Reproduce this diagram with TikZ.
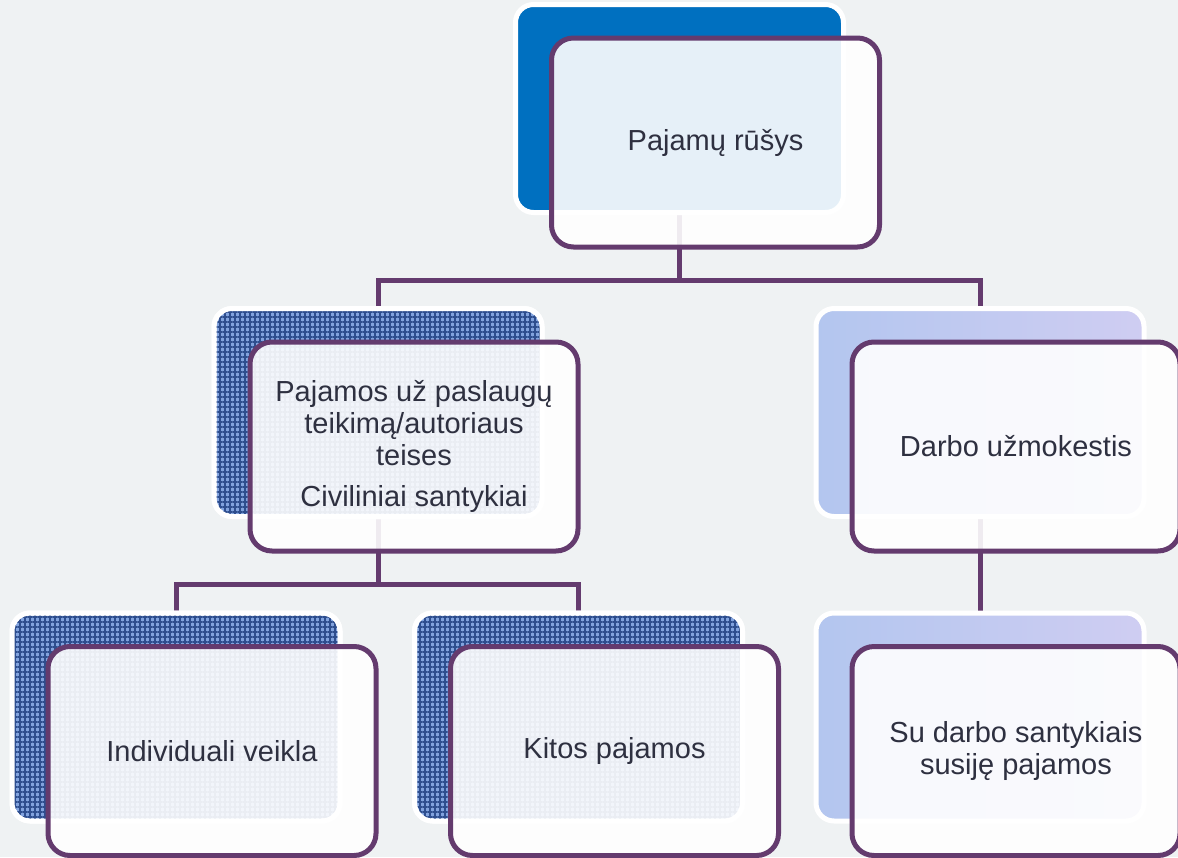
\documentclass[tikz,border=0pt]{standalone}
\usepackage{fontspec}
\setmainfont{Liberation Sans}
\usetikzlibrary{patterns.meta,backgrounds}

\definecolor{bgcol}{HTML}{EFF2F3}
\definecolor{rimcol}{HTML}{643B6E}
\definecolor{headblue}{HTML}{0070C0}
\definecolor{clothbase}{HTML}{82A3DE}
\definecolor{clothweave}{HTML}{2E4E8E}
\definecolor{mistA}{HTML}{B3C6EF}
\definecolor{mistB}{HTML}{C6D6F6}
\definecolor{mistC}{HTML}{CFCDF2}
\definecolor{txtcol}{HTML}{2E3040}

\begin{document}
\begin{tikzpicture}[x=1pt,y=-1pt,
    backbox/.style={rectangle,
          rounded corners=18pt,
          draw=white,
          line width=5pt,
          minimum width=328pt,
          minimum height=208pt},
    cloth/.style={backbox,
          fill=clothbase,
          postaction={pattern={Hatch[distance=5pt,line width=1.6pt]},
                      pattern color=clothweave, draw=white}},
    mist/.style={backbox,
          left color=mistA, middle color=mistB, right color=mistC},
    frontbox/.style={rectangle,
          rounded corners=22pt,
          draw=rimcol,
          line width=5pt,
          fill=white,
          fill opacity=0.9,
          minimum width=328pt,
          minimum height=209pt},
    caption/.style={align=center,
          text=txtcol,
          font=\fontsize{29pt}{32pt}\selectfont},
    link/.style={draw=rimcol, line width=5pt}]

    \path[use as bounding box] (0,0) rectangle (1178,857);

    % back boxes
    \node[backbox, fill=headblue] (topb) at (679.5,108.5) {};
    \node[cloth] (mlb) at (378,412.5) {};
    \node[mist]  (mrb) at (980,412.5) {};
    \node[cloth] (blb) at (176,717) {};
    \node[cloth] (bmb) at (578.5,717) {};
    \node[mist]  (brb) at (980,717) {};

    % front boxes
    \node[frontbox] (topf) at ([xshift=36pt,yshift=-34pt]topb.center) {};
    \node[caption] (toptxt) at (topf.center) {Pajamų rūšys};

    \node[frontbox] (mlf) at ([xshift=36pt,yshift=-34pt]mlb.center) {};
    \node[caption] (mltxt) at (mlf.center) {Pajamos už paslaugų\\teikimą/autoriaus\\teises\\[9pt]Civiliniai santykiai};

    \node[frontbox] (mrf) at ([xshift=36pt,yshift=-34pt]mrb.center) {};
    \node[caption] (mrtxt) at (mrf.center) {Darbo užmokestis};

    \node[frontbox] (blf) at ([xshift=36pt,yshift=-34pt]blb.center) {};
    \node[caption] (bltxt) at (blf.center) {Individuali veikla};

    \node[frontbox] (bmf) at ([xshift=36pt,yshift=-34pt]bmb.center) {};
    \node[caption] (bmtxt) at (bmf.center) {Kitos pajamos};

    \node[frontbox] (brf) at ([xshift=36pt,yshift=-34pt]brb.center) {};
    \node[caption] (brtxt) at (brf.center) {Su darbo santykiais\\susiję pajamos};

    \begin{pgfonlayer}{background}
    \fill[bgcol] (0,0) rectangle (1178,857);
    %tree lines
    \path[link]
    (topb.south) -- ++(0,65) -| (mlb.north)
    (topb.south) ++(0,65) -| (mrb.north)
    (mlb.south) -- ++(0,65) -| (blb.north)
    (mlb.south) ++(0,65) -| (bmb.north)
    (mrb.south) -- (brb.north);
    \end{pgfonlayer}

\end{tikzpicture}
\end{document}
